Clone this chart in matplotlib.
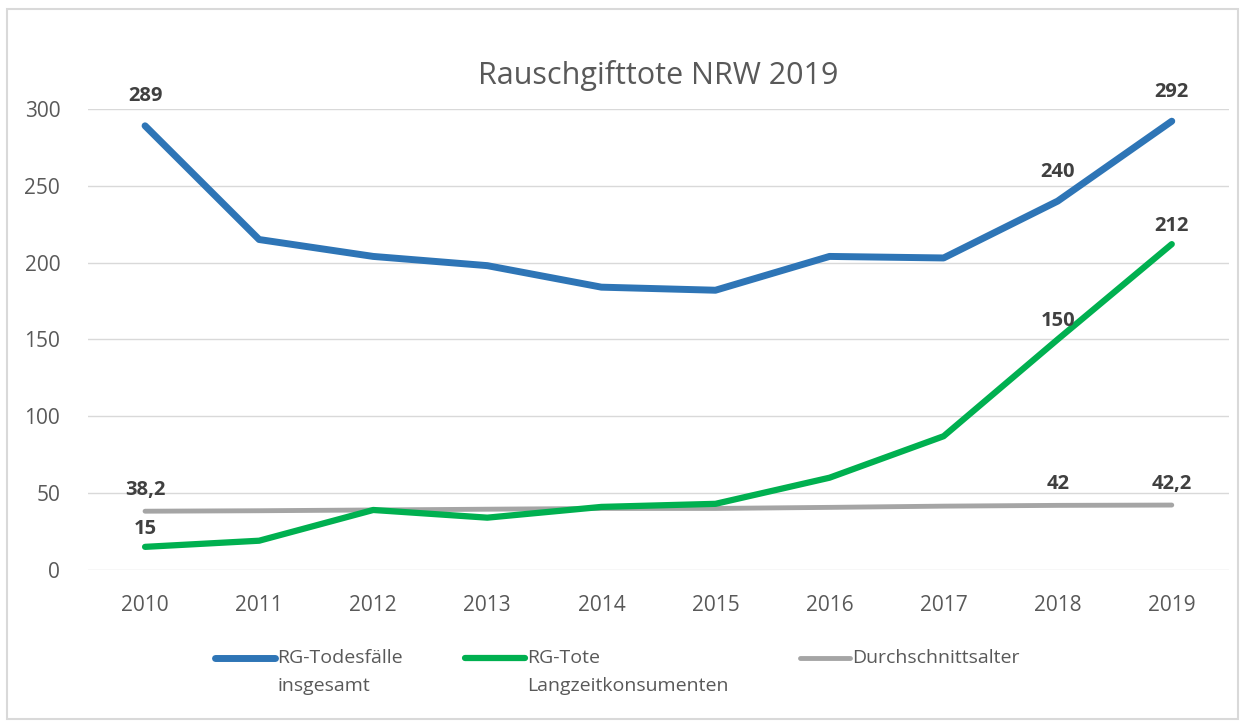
import matplotlib.pyplot as plt
from matplotlib.patches import Rectangle
from matplotlib.lines import Line2D

plt.rcParams['font.family'] = ['Open Sans', 'DejaVu Sans']

years = ["2010", "2011", "2012", "2013", "2014", "2015", "2016", "2017", "2018", "2019"]
todesfaelle = [289, 215, 204, 198, 184, 182, 204, 203, 240, 292]
langzeit = [15, 19, 39, 34, 41, 43, 60, 87, 150, 212]
alter = [38.2, 38.5, 39.0, 39.5, 40.0, 40.0, 40.7, 41.5, 42.0, 42.2]

series_names = ["RG-Todesfälle\ninsgesamt", "RG-Tote\nLangzeitkonsumenten", "Durchschnittsalter"]
colors = ["#2E75B6", "#00B050", "#A5A5A5"]
widths = [5, 4.5, 3.5]

# which points get a value label (index, text)
labels_blue = [(0, "289"), (8, "240"), (9, "292")]
labels_green = [(0, "15"), (8, "150"), (9, "212")]
labels_gray = [(0, "38,2"), (8, "42"), (9, "42,2")]

fig = plt.figure(figsize=(12.45, 7.26), dpi=100)
ax = fig.add_axes([0.0707, 0.215, 0.9163, 0.635])

x = list(range(len(years)))
ax.plot(x, todesfaelle, color=colors[0], lw=widths[0], solid_capstyle="round", zorder=3)
ax.plot(x, langzeit, color=colors[1], lw=widths[1], solid_capstyle="round", zorder=3)
ax.plot(x, alter, color=colors[2], lw=widths[2], solid_capstyle="round", zorder=2)

lab_style = dict(ha="center", va="bottom", fontsize=14.5, fontweight="bold", color="#404040",
                 textcoords="offset points")
for i, t in labels_blue:
    ax.annotate(t, (x[i], todesfaelle[i]), xytext=(0, 14), **lab_style)
for i, t in labels_green:
    ax.annotate(t, (x[i], langzeit[i]), xytext=(0, 6), **lab_style)
for i, t in labels_gray:
    ax.annotate(t, (x[i], alter[i]), xytext=(0, 8), **lab_style)

ax.set_xlim(-0.5, len(years) - 0.5)
ax.set_ylim(0, 300)
ax.set_yticks([0, 50, 100, 150, 200, 250, 300])
ax.set_xticks(x)
ax.set_xticklabels(years)
ax.tick_params(length=0, labelsize=15, labelcolor="#595959", pad=18)
ax.tick_params(axis="y", pad=20)
ax.grid(axis="y", color="#D9D9D9", lw=1)
ax.set_axisbelow(True)
for s in ax.spines.values():
    s.set_visible(False)

ax.set_title("Rauschgifttote NRW 2019", fontsize=22, color="#595959", pad=18)

# legend drawn by hand so the handle sits on the first text line
leg_x = [(0.1727, 0.2209), (0.3735, 0.4217), (0.6426, 0.6827)]
leg_y = 0.0937
for (x0, x1), name, c, w in zip(leg_x, series_names, colors, widths):
    fig.add_artist(Line2D([x0, x1], [leg_y, leg_y], color=c, lw=w, solid_capstyle="round",
                          transform=fig.transFigure))
    fig.text(x1 + 0.002, leg_y + 0.013, name, ha="left", va="top", fontsize=14,
             color="#595959", linespacing=1.75)

fig.patches.append(Rectangle((0.006, 0.01), 0.988, 0.978, transform=fig.transFigure,
                             fill=False, edgecolor="#D9D9D9", lw=1.5))

fig.savefig("out.png", dpi=100)
